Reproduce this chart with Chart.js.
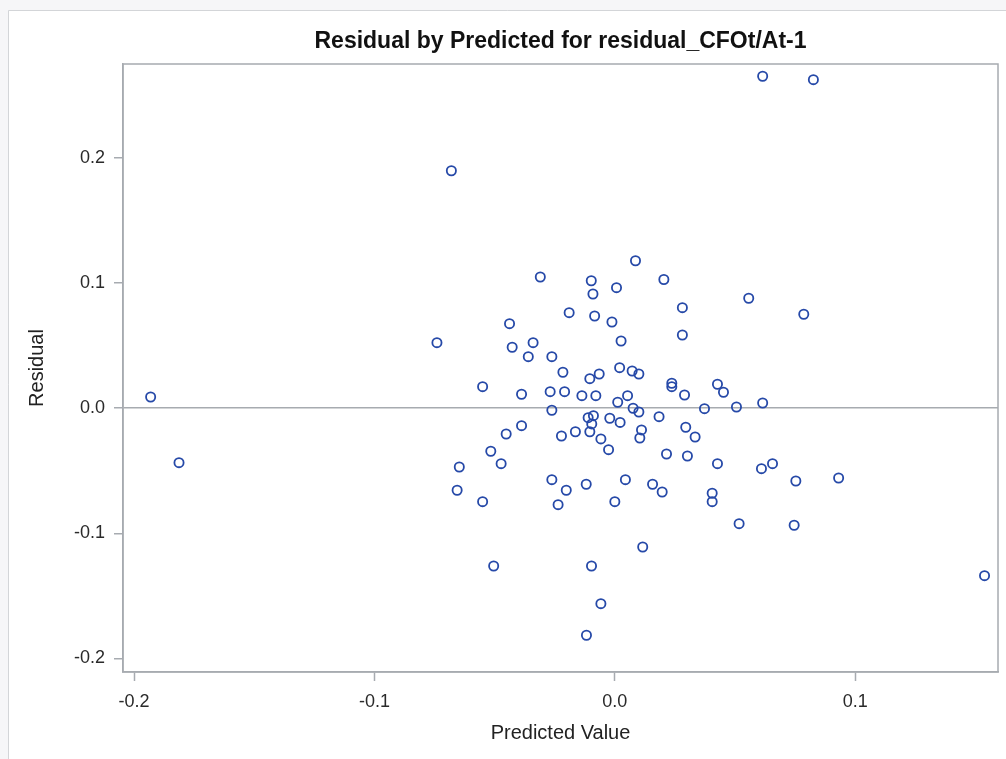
<!DOCTYPE html>
<html>
<head>
<meta charset="utf-8">
<title>Residual by Predicted</title>
<script src="https://cdn.jsdelivr.net/npm/chart.js@4"></script>
<style>
  body { margin: 0; background: #f6f6f8; }
  canvas { display: block; }
</style>
</head>
<body>
<canvas id="residChart" width="1006" height="759"></canvas>
<script>
// Podaci procitani sa grafika
const predicted = [
  -0.1931, -0.1813, -0.068, 0.0086, -0.031, -0.0098, 0.0204, 0.0007, -0.0091, -0.019,
  -0.0084, -0.0012, -0.0438, -0.074, -0.0427, -0.034, 0.0026, -0.036, -0.0262, -0.0216,
  -0.0104, -0.0065, 0.002, 0.0072, 0.010, -0.055, -0.0388, -0.0269, -0.0209, -0.0137,
  -0.0079, 0.0012, 0.0053, 0.0237, 0.0237, 0.0615, 0.0826, 0.0557, 0.0281, 0.0786,
  0.0281, 0.0427, 0.0452, 0.029, 0.0615, 0.0373, 0.0506, 0.0295, 0.0334, 0.0215,
  0.0302, 0.0427, 0.061, 0.0656, 0.0753, 0.0931, 0.0405, 0.0405, 0.0517, 0.0746,
  0.1538, -0.0262, 0.0076, 0.010, 0.0184, -0.0111, -0.0089, -0.0096, -0.0021, 0.0022,
  -0.0104, -0.0164, -0.0222, -0.0388, -0.0452, 0.0111, 0.0104, -0.0058, -0.0026, -0.0516,
  -0.0473, -0.0647, -0.0656, -0.055, -0.0262, -0.0202, -0.0236, -0.0119, 0.0044, 0.0,
  0.0157, 0.0197, 0.0116, -0.0504, -0.0097, -0.0058, -0.0118
];
const residual = [
  0.009, -0.0435, 0.190, 0.118, 0.105, 0.102, 0.103, 0.0965, 0.0914, 0.0765,
  0.0738, 0.069, 0.0677, 0.0525, 0.0488, 0.0525, 0.0538, 0.0413, 0.0413, 0.0288,
  0.0237, 0.0274, 0.0325, 0.0298, 0.0274, 0.0173, 0.0112, 0.0133, 0.0133, 0.0101,
  0.0101, 0.0048, 0.0101, 0.020, 0.0173, 0.2656, 0.2629, 0.088, 0.0805, 0.0752,
  0.0586, 0.0192, 0.0128, 0.0106, 0.0042, -0.0003, 0.001, -0.0152, -0.023, -0.0366,
  -0.0382, -0.0443, -0.0483, -0.0443, -0.0582, -0.0558, -0.068, -0.0747, -0.0923, -0.0936,
  -0.1339, -0.0016, 0.0, -0.003, -0.0067, -0.0075, -0.0059, -0.0125, -0.008, -0.0113,
  -0.0188, -0.0188, -0.0222, -0.0139, -0.0206, -0.0173, -0.0238, -0.0245, -0.0331, -0.0344,
  -0.0443, -0.047, -0.0656, -0.0747, -0.0571, -0.0656, -0.0771, -0.0608, -0.0571, -0.0747,
  -0.0608, -0.067, -0.111, -0.1262, -0.1262, -0.1563, -0.1816
];
const xTicks = [-0.2, -0.1, 0.0, 0.1];
const yTicks = [-0.2, -0.1, 0.0, 0.1, 0.2];

const axisGray = '#a7abb0';
const fontFam = '"Liberation Sans", Arial, sans-serif';

// okvir oko cele slike i oko oblasti crteza
const framePlugin = {
  id: 'frame',
  beforeDraw(chart) {
    const c = chart.ctx;
    c.save();
    c.fillStyle = '#f6f6f8';
    c.fillRect(0, 0, chart.width, chart.height);
    c.fillStyle = '#ffffff';
    c.fillRect(9, 11, chart.width - 9, chart.height - 11);
    c.strokeStyle = '#d3d5d8';
    c.lineWidth = 1;
    c.beginPath();
    c.moveTo(8.5, chart.height);
    c.lineTo(8.5, 10.5);
    c.lineTo(chart.width, 10.5);
    c.stroke();
    c.restore();
  },
  afterDatasetsDraw(chart) {
    const a = chart.chartArea;
    const c = chart.ctx;
    c.save();
    c.strokeStyle = axisGray;
    c.lineWidth = 1.5;
    c.strokeRect(a.left, a.top, a.right - a.left, a.bottom - a.top);
    c.restore();
  }
};

const points = predicted.map((x, i) => ({ x: x, y: residual[i] }));

new Chart(document.getElementById('residChart'), {
  type: 'scatter',
  data: {
    datasets: [{
      label: 'Residual',
      data: points,
      pointStyle: 'circle',
      pointRadius: 4.6,
      pointBorderWidth: 1.8,
      borderColor: '#2649a8',
      backgroundColor: 'rgba(0,0,0,0)'
    }]
  },
  options: {
    responsive: false,
    animation: false,
    layout: { padding: { left: 8, right: 8, top: 0, bottom: 0 } },
    plugins: {
      legend: { display: false },
      tooltip: { enabled: false },
      title: {
        display: true,
        text: 'Residual by Predicted for residual_CFOt/At-1',
        fullSize: false,
        color: '#111',
        font: { family: fontFam, size: 23, weight: 'bold' },
        padding: { top: 28, bottom: 8.4 }
      }
    },
    scales: {
      x: {
        type: 'linear',
        min: -0.2046,
        max: 0.1594,
        afterBuildTicks: s => { s.ticks = xTicks.map(v => ({ value: v })); },
        afterFit: s => { s.height = 87; },
        ticks: {
          padding: 10,
          color: '#2a2a2a',
          font: { family: fontFam, size: 18 },
          callback: v => Number(v).toFixed(1)
        },
        grid: {
          color: 'rgba(0,0,0,0)',
          tickColor: axisGray,
          tickLength: 9,
          tickWidth: 1.5
        },
        border: { display: true, color: axisGray, width: 1.5 },
        title: {
          display: true,
          text: 'Predicted Value',
          color: '#222',
          font: { family: fontFam, size: 20 },
          padding: { top: 0, bottom: 14 }
        }
      },
      y: {
        type: 'linear',
        min: -0.211,
        max: 0.2754,
        afterBuildTicks: s => { s.ticks = yTicks.map(v => ({ value: v })); },
        afterFit: s => { s.width = 115; },
        ticks: {
          padding: 9,
          color: '#2a2a2a',
          font: { family: fontFam, size: 18 },
          callback: v => Number(v).toFixed(1)
        },
        grid: {
          color: ctx => (ctx.tick && ctx.tick.value === 0) ? axisGray : 'rgba(0,0,0,0)',
          lineWidth: 1.5,
          tickColor: axisGray,
          tickLength: 9,
          tickWidth: 1.5
        },
        border: { display: true, color: axisGray, width: 1.5 },
        title: {
          display: true,
          text: 'Residual',
          color: '#222',
          font: { family: fontFam, size: 20 },
          padding: { top: 17, bottom: 0 }
        }
      }
    }
  },
  plugins: [framePlugin]
});
</script>
</body>
</html>
